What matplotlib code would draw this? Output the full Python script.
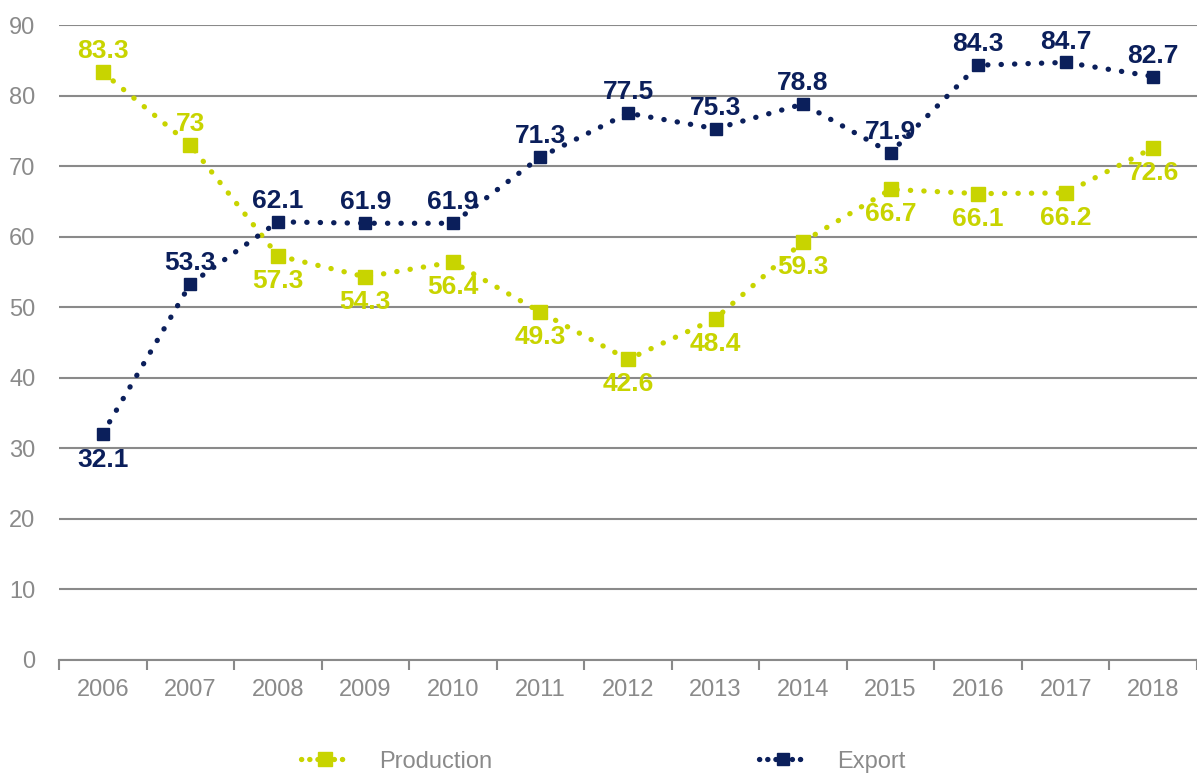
import numpy as np
import matplotlib
matplotlib.use("Agg")
import matplotlib.pyplot as plt
from matplotlib.ticker import FixedLocator
from matplotlib.lines import Line2D

plt.rcParams['font.family'] = ['Liberation Sans', 'DejaVu Sans']

years = ["2006", "2007", "2008", "2009", "2010", "2011", "2012",
         "2013", "2014", "2015", "2016", "2017", "2018"]
production = [83.3, 73, 57.3, 54.3, 56.4, 49.3, 42.6, 48.4, 59.3, 66.7, 66.1, 66.2, 72.6]
export = [32.1, 53.3, 62.1, 61.9, 61.9, 71.3, 77.5, 75.3, 78.8, 71.9, 84.3, 84.7, 82.7]
prod_labels = ["83.3", "73", "57.3", "54.3", "56.4", "49.3", "42.6",
               "48.4", "59.3", "66.7", "66.1", "66.2", "72.6"]
exp_labels = ["32.1", "53.3", "62.1", "61.9", "61.9", "71.3", "77.5",
              "75.3", "78.8", "71.9", "84.3", "84.7", "82.7"]
# label above (+1) or below (-1) the point
prod_side = [1, 1, -1, -1, -1, -1, -1, -1, -1, -1, -1, -1, -1]
exp_side = [-1, 1, 1, 1, 1, 1, 1, 1, 1, 1, 1, 1, 1]

GREEN = "#C8D400"
NAVY = "#0B1F5B"
GREY = "#8A8A8A"

fig = plt.figure(figsize=(11.97, 7.74), dpi=100)
ax = fig.add_axes([0.0493, 0.1473, 0.9507, 0.8204])

x = np.arange(len(years))
ax.plot(x, production, color=GREEN, lw=3.8, ls=(0, (0.05, 2.5)),
        dash_capstyle="round", marker="s", ms=10)
ax.plot(x, export, color=NAVY, lw=3.8, ls=(0, (0.05, 2.5)),
        dash_capstyle="round", marker="s", ms=9)

for xi, v, t, s in zip(x, production, prod_labels, prod_side):
    ax.annotate(t, (xi, v), xytext=(0, 15 if s > 0 else -18), textcoords="offset points",
                ha="center", va="center", fontsize=19, fontweight="bold", color=GREEN)
for xi, v, t, s in zip(x, export, exp_labels, exp_side):
    ax.annotate(t, (xi, v), xytext=(0, 15 if s > 0 else -19), textcoords="offset points",
                ha="center", va="center", fontsize=19, fontweight="bold", color=NAVY)

ax.set_xlim(-0.5, len(years) - 0.5)
ax.set_ylim(0, 90)
ax.set_yticks(np.arange(0, 91, 10))
ax.yaxis.grid(True, color=GREY, lw=1.5)
ax.set_axisbelow(True)
ax.tick_params(axis="y", length=0, labelsize=17, labelcolor=GREY, pad=17)

ax.set_xticks(x)
ax.set_xticklabels(years)
ax.tick_params(axis="x", which="major", length=0, labelsize=17, labelcolor=GREY, pad=14)
ax.xaxis.set_minor_locator(FixedLocator(np.arange(-0.5, len(years), 1)))
ax.tick_params(axis="x", which="minor", length=7, width=1.5, color=GREY)

for side in ["top", "right", "left"]:
    ax.spines[side].set_visible(False)
ax.spines["bottom"].set_color(GREY)
ax.spines["bottom"].set_linewidth(1.5)

# legend handles with tighter dots, like the original
handles = [
    Line2D([], [], color=GREEN, lw=3.8, ls=(0, (0.05, 1.5)), dash_capstyle="round",
           marker="s", ms=10, label="Production"),
    Line2D([], [], color=NAVY, lw=3.8, ls=(0, (0.05, 1.5)), dash_capstyle="round",
           marker="s", ms=9, label="Export"),
]
leg = fig.legend(handles=handles, loc="center", ncol=2, bbox_to_anchor=(0.504, 0.016),
                 frameon=False, fontsize=17, handlelength=2.0, handletextpad=1.3,
                 columnspacing=11.3)
for t in leg.get_texts():
    t.set_color(GREY)

fig.savefig("out.png", dpi=100)
